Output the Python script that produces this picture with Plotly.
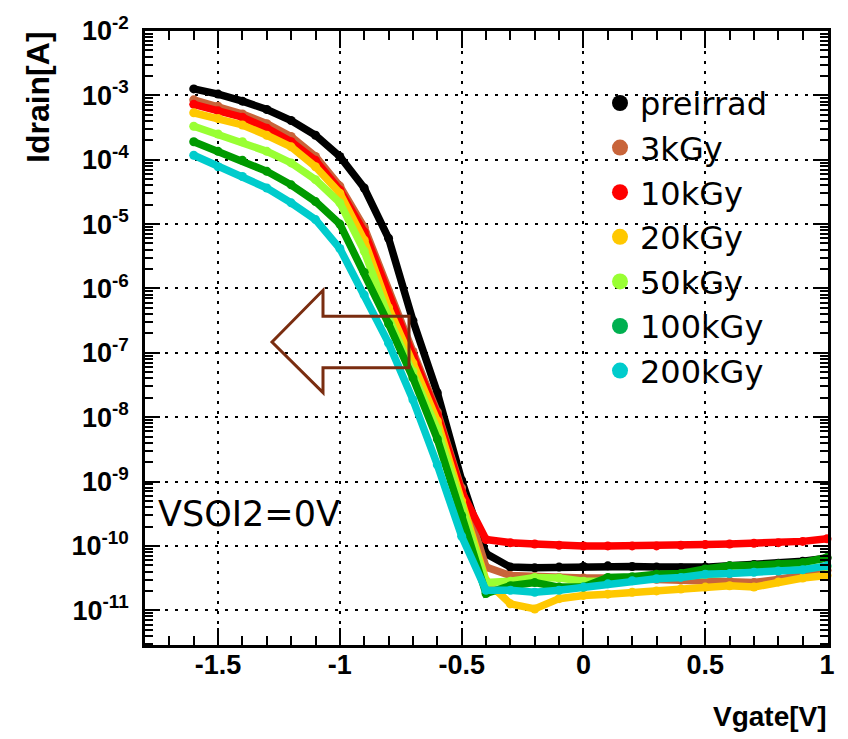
import plotly.graph_objects as go

# ---------------- data ----------------
vgate = [-1.6, -1.5, -1.4, -1.3, -1.2, -1.1, -1.0, -0.9, -0.8, -0.7, -0.6, -0.5, -0.4,
         -0.3, -0.2, -0.1, 0.0, 0.1, 0.2, 0.3, 0.4, 0.5, 0.6, 0.7, 0.8, 0.9, 1.0]

# log10 of Idrain [A]
log_preirrad = [-2.90, -2.98, -3.09, -3.22, -3.39, -3.62, -3.95, -4.44, -5.22, -6.50, -7.62, -8.98, -10.12,
                -10.33, -10.34, -10.33, -10.32, -10.31, -10.32, -10.33, -10.34, -10.33, -10.31, -10.29, -10.27, -10.24, -10.19]
log_3kGy = [-3.07, -3.17, -3.29, -3.44, -3.64, -3.95, -4.41, -5.05, -6.05, -6.98, -7.92, -9.10, -10.33,
            -10.46, -10.48, -10.49, -10.50, -10.50, -10.51, -10.52, -10.53, -10.54, -10.55, -10.57, -10.52, -10.45, -10.38]
log_10kGy = [-3.14, -3.24, -3.34, -3.51, -3.72, -4.01, -4.47, -5.12, -6.12, -7.04, -7.96, -9.16, -9.90,
             -9.95, -9.97, -9.99, -10.00, -10.00, -10.00, -10.00, -9.99, -9.98, -9.97, -9.96, -9.95, -9.93, -9.89]
log_20kGy = [-3.27, -3.36, -3.46, -3.62, -3.80, -4.11, -4.52, -5.25, -6.30, -7.16, -8.06, -9.30, -10.54,
             -10.90, -10.98, -10.82, -10.77, -10.75, -10.72, -10.70, -10.67, -10.64, -10.62, -10.64, -10.56, -10.50, -10.46]
log_50kGy = [-3.48, -3.60, -3.72, -3.87, -4.05, -4.31, -4.67, -5.42, -6.45, -7.29, -8.19, -9.38, -10.57,
             -10.55, -10.49, -10.50, -10.55, -10.55, -10.52, -10.50, -10.47, -10.44, -10.42, -10.40, -10.38, -10.36, -10.32]
log_100kGy = [-3.72, -3.87, -4.01, -4.18, -4.39, -4.65, -5.00, -5.75, -6.55, -7.39, -8.34, -9.53, -10.74,
              -10.62, -10.57, -10.64, -10.64, -10.49, -10.48, -10.44, -10.43, -10.36, -10.31, -10.30, -10.28, -10.26, -10.18]
log_200kGy = [-3.93, -4.11, -4.26, -4.44, -4.67, -4.93, -5.38, -6.10, -6.85, -7.73, -8.74, -9.85, -10.69,
              -10.69, -10.72, -10.69, -10.64, -10.59, -10.54, -10.51, -10.49, -10.44, -10.43, -10.41, -10.39, -10.37, -10.31]

series_names = ["preirrad", "3kGy", "10kGy", "20kGy", "50kGy", "100kGy", "200kGy"]
series_logs = [log_preirrad, log_3kGy, log_10kGy, log_20kGy, log_50kGy, log_100kGy, log_200kGy]
line_colors = ["#000000", "#C8643A", "#FF0000", "#FFC800", "#99FF33", "#009A00", "#00CCCC"]
legend_colors = ["#000000", "#C8643A", "#FF0000", "#FFC800", "#99FF33", "#00B050", "#00CCCC"]

x_tickvals = [-1.5, -1.0, -0.5, 0.0, 0.5, 1.0]
x_ticktext = ["-1.5", "-1", "-0.5", "0", "0.5", "1"]
y_exponents = [-11, -10, -9, -8, -7, -6, -5, -4, -3, -2]

# ---------------- layout geometry (pixels) ----------------
W, H = 848, 739
ML, MR, MT, MB = 145, 20, 27, 94
PW, PH = W - ML - MR, H - MT - MB


def px(x):
    return (x - ML) / PW


def py(y):
    return (H - MB - y) / PH


fig = go.Figure()

for name, logs, col in zip(series_names, series_logs, line_colors):
    fig.add_trace(go.Scatter(
        x=vgate, y=[10 ** v for v in logs], mode="lines+markers", name=name,
        line=dict(color=col, width=7.5), marker=dict(color=col, size=9),
        showlegend=False, cliponaxis=False))

for name, col in zip(series_names, legend_colors):
    fig.add_trace(go.Scatter(
        x=[None], y=[None], mode="markers", name=name,
        marker=dict(color=col, size=16), showlegend=True))

tick_font = dict(family="Liberation Sans, Arial, sans-serif", size=27, color="black", weight="bold")

fig.update_layout(
    width=W, height=H,
    margin=dict(l=ML, r=MR, t=MT, b=MB),
    paper_bgcolor="white", plot_bgcolor="white",
    showlegend=True,
    legend=dict(x=px(600), y=py(72), xanchor="left", yanchor="top",
                bgcolor="rgba(0,0,0,0)", borderwidth=0,
                font=dict(family="DejaVu Sans", size=32, color="black"),
                itemsizing="trace"),
    xaxis=dict(
        range=[-1.80, 1.004], showline=True, linecolor="black", linewidth=2.5,
        mirror="allticks", ticks="inside", ticklen=17, tickwidth=1.5, tickcolor="black",
        tickmode="array", tickvals=x_tickvals, ticktext=x_ticktext,
        tickfont=tick_font, ticklabelstandoff=-6,
        showgrid=True, gridcolor="black", gridwidth=1.5, griddash="3px,7px",
        zeroline=False,
        minor=dict(ticks="inside", ticklen=9, tickwidth=1.5, tickcolor="black",
                   tick0=-1.5, dtick=0.1, showgrid=False),
    ),
    yaxis=dict(
        type="log", range=[-11.54, -2.0], showline=True, linecolor="black", linewidth=2.5,
        mirror="allticks", ticks="inside", ticklen=15, tickwidth=1.5, tickcolor="black",
        tickmode="array", tickvals=[10.0 ** e for e in y_exponents],
        ticktext=["10<sup>%d</sup>" % e for e in y_exponents],
        tickfont=tick_font, ticklabelstandoff=8,
        showgrid=True, gridcolor="black", gridwidth=1.5, griddash="3px,7px",
        zeroline=False,
        minor=dict(ticks="inside", ticklen=8, tickwidth=1.5, tickcolor="black",
                   dtick="D1", showgrid=False),
    ),
)

# axis titles (ROOT style: at the ends of the axes)
fig.add_annotation(text="<b>Idrain[A]</b>", xref="paper", yref="paper",
                   x=px(38), y=py(25), xanchor="center", yanchor="top",
                   textangle=-90, showarrow=False,
                   font=dict(family="Liberation Sans, Arial, sans-serif", size=32, color="black"))
fig.add_annotation(text="<b>Vgate[V]</b>", xref="paper", yref="paper",
                   x=px(829), y=py(717), xanchor="right", yanchor="middle",
                   showarrow=False,
                   font=dict(family="Liberation Sans, Arial, sans-serif", size=28, color="black"))

# condition label
fig.add_annotation(text="VSOI2=0V", xref="paper", yref="paper",
                   x=px(156), y=py(513), xanchor="left", yanchor="middle",
                   showarrow=False,
                   font=dict(family="DejaVu Sans", size=35, color="black"))

# outlined block arrow pointing left
arrow_pts = [(272, 340), (323, 288), (323, 314), (409, 314), (409, 366), (323, 366), (323, 391)]
path = "M " + " L ".join("%.5f,%.5f" % (px(a), py(b)) for a, b in arrow_pts) + " Z"
fig.add_shape(type="path", path=path, xref="paper", yref="paper",
              line=dict(color="#7A2D10", width=3), fillcolor="rgba(0,0,0,0)")

fig.write_html("out.html")
